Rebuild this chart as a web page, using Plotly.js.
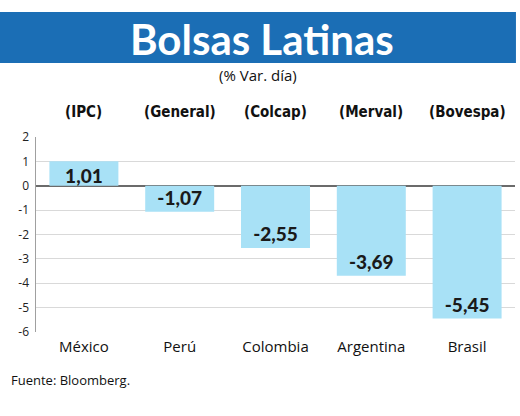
<!DOCTYPE html>
<html>
<head>
<meta charset="utf-8">
<script src="https://cdn.plot.ly/plotly-3.0.1.min.js"></script>
<style>html,body{margin:0;padding:0;background:#fff;}#chart{width:520px;height:416px;}</style>
</head>
<body>
<div id="chart"></div>
<script>
const countries = ["México", "Perú", "Colombia", "Argentina", "Brasil"];
const indices = ["(IPC)", "(General)", "(Colcap)", "(Merval)", "(Bovespa)"];
const values = [1.01, -1.07, -2.55, -3.69, -5.45];
const yTicks = [2, 1, 0, -1, -2, -3, -4, -5, -6];

const trace = {
  type: "bar",
  x: countries,
  y: values,
  marker: {color: "#a8e1f6", line: {width: 0}},
  texttemplate: "%{y:.2f}",
  textposition: "inside",
  insidetextanchor: "end",
  constraintext: "none",
  textfont: {family: "Lato, 'Open Sans', sans-serif", size: 19, color: "#1a1a1a", weight: 900},
  hoverinfo: "none",
  cliponaxis: false
};

const annotations = indices.map((t, i) => ({
  xref: "x", yref: "paper", x: countries[i], y: 1.128, text: t,
  showarrow: false, xanchor: "center", yanchor: "middle",
  font: {family: "'Liberation Sans Narrow', 'DejaVu Sans Condensed', sans-serif", size: 15, color: "#111", weight: 700}
}));
annotations.push({
  xref: "paper", yref: "paper", x: 0.472, y: 1.505, text: "Bolsas Latinas",
  showarrow: false, xanchor: "center", yanchor: "middle",
  font: {family: "Lato, sans-serif", size: 42, color: "#ffffff", weight: 700}
});
annotations.push({
  xref: "paper", yref: "paper", x: 0.463, y: 1.318, text: "(% Var. día)",
  showarrow: false, xanchor: "center", yanchor: "middle",
  font: {family: "'Open Sans', sans-serif", size: 15, color: "#111"}
});
annotations.push({
  xref: "paper", yref: "paper", x: -0.056, y: -0.245, text: "Fuente: Bloomberg.",
  showarrow: false, xanchor: "left", yanchor: "middle",
  font: {family: "'Open Sans', sans-serif", size: 13, color: "#111"}
});

const layout = {
  width: 520, height: 416,
  margin: {l: 36, r: 5, t: 137, b: 84, pad: 0},
  paper_bgcolor: "#ffffff", plot_bgcolor: "#ffffff",
  separators: ",.",
  showlegend: false,
  bargap: 0.28,
  xaxis: {
    type: "category", showgrid: false, zeroline: false, showline: false,
    ticks: "", tickfont: {family: "'Open Sans', sans-serif", size: 15, color: "#111"},
    ticklabelstandoff: 4
  },
  yaxis: {
    range: [-6, 2], tickvals: yTicks, ticktext: yTicks.map(String),
    showgrid: true, gridcolor: "#d9d9d9", gridwidth: 1.2,
    zeroline: true, zerolinecolor: "#6b6b6b", zerolinewidth: 2.2,
    showline: true, linecolor: "#a0a0a0", linewidth: 1.5,
    ticks: "", tickfont: {family: "'Open Sans', sans-serif", size: 12, color: "#222"},
    ticklabelstandoff: 3
  },
  shapes: [{
    type: "rect", xref: "paper", yref: "paper",
    x0: -0.0752, x1: 1.002, y0: 1.38, y1: 1.641,
    fillcolor: "#1b6eb5", line: {width: 0}, layer: "below"
  }],
  annotations: annotations
};

Plotly.newPlot("chart", [trace], layout, {displayModeBar: false, staticPlot: true});
</script>
</body>
</html>
